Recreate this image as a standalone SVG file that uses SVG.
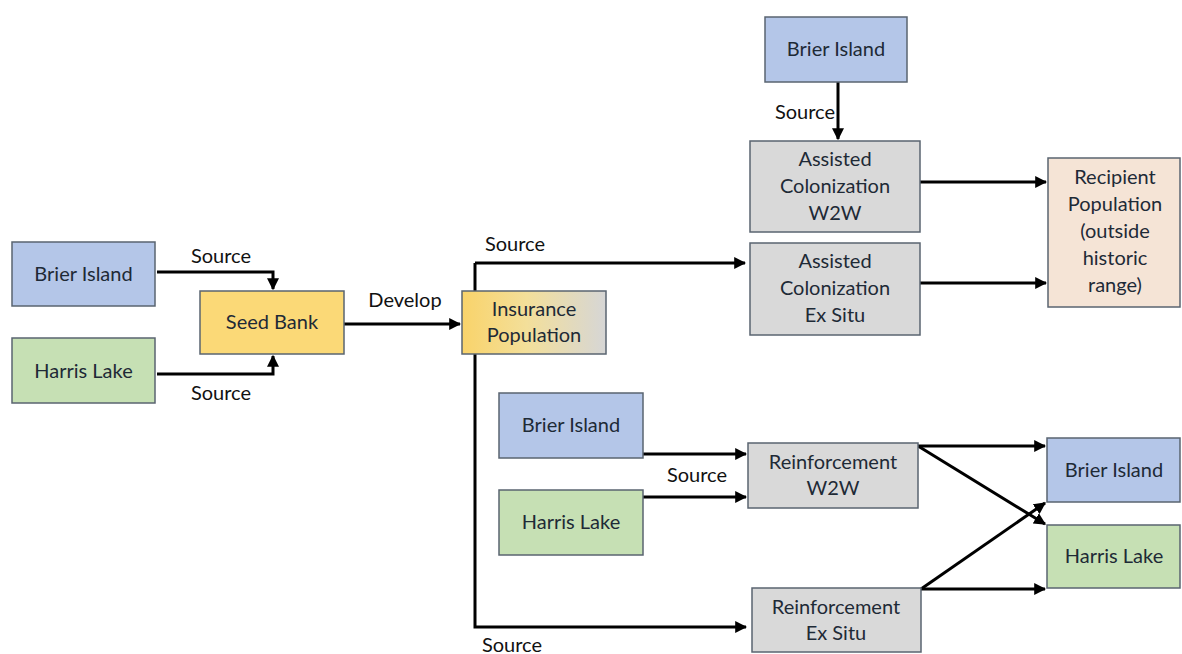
<svg xmlns="http://www.w3.org/2000/svg" width="1182" height="654" viewBox="0 0 1182 654">
<defs>
<marker id="ah" viewBox="0 0 10 10" refX="9" refY="5" markerWidth="4" markerHeight="4" orient="auto" markerUnits="strokeWidth"><path d="M0,0 L10,5 L0,10 z" fill="#000"/></marker>
<linearGradient id="ins" x1="0" y1="0" x2="1" y2="0"><stop offset="0" stop-color="#f9d36a"/><stop offset="0.45" stop-color="#f3df9a"/><stop offset="1" stop-color="#d6d6d6"/></linearGradient>
<style>
.box{stroke:#5a6470;stroke-width:1.5}
.blue{fill:#b4c6e8}
.green{fill:#c6e0b4}
.yellow{fill:#fbd977}
.gray{fill:#d9d9d9}
.peach{fill:#f5e4d6}
text{font-family:Lato,"Open Sans","Liberation Sans",sans-serif;font-size:20px;fill:#1e2a36;text-anchor:middle}
.lbl{fill:#111}
.c{fill:none;stroke:#000;stroke-width:3;marker-end:url(#ah)}
.n{fill:none;stroke:#000;stroke-width:3}
</style>
</defs>
<rect width="1182" height="654" fill="#fff"/>
<g id="connectors">
<path class="c" d="M157,272 H273 V289"/>
<path class="c" d="M157,374 H273 V356"/>
<path class="c" d="M344,324 H460"/>
<path class="n" d="M475,291 V263"/>
<path class="c" d="M475,263 H745"/>
<path class="c" d="M475,354 V627 H746"/>
<path class="c" d="M838,82 V139"/>
<path class="c" d="M920,182 H1046"/>
<path class="c" d="M920,283 H1046"/>
<path class="c" d="M643,454 H746"/>
<path class="c" d="M643,497 H746"/>
<path class="c" d="M918,446 H1045"/>
<path class="c" d="M918,446 L1045,524"/>
<path class="c" d="M921,589 H1045"/>
<path class="c" d="M921,589 L1045,503"/>
<text class="lbl" x="221" y="263">Source</text>
<text class="lbl" x="221" y="400">Source</text>
<text class="lbl" x="405" y="307">Develop</text>
<text class="lbl" x="515" y="251">Source</text>
<text class="lbl" x="805" y="119">Source</text>
<text class="lbl" x="697" y="482">Source</text>
<text class="lbl" x="512" y="652">Source</text>
</g>
<g id="brier-left"><rect class="box blue" x="12" y="242" width="143" height="64"/><text x="83.5" y="281">Brier Island</text></g>
<g id="harris-left"><rect class="box green" x="12" y="338" width="143" height="65"/><text x="83.5" y="378">Harris Lake</text></g>
<g id="seed-bank"><rect class="box yellow" x="200" y="291" width="144" height="63"/><text x="272" y="329">Seed Bank</text></g>
<g id="insurance"><rect class="box" fill="url(#ins)" x="462" y="291" width="144" height="63"/><text x="534" y="316">Insurance</text><text x="534" y="342">Population</text></g>
<g id="brier-top"><rect class="box blue" x="765" y="17" width="142" height="65"/><text x="836" y="56">Brier Island</text></g>
<g id="ac-w2w"><rect class="box gray" x="750" y="141" width="170" height="91"/><text x="835" y="166">Assisted</text><text x="835" y="193">Colonization</text><text x="835" y="220">W2W</text></g>
<g id="ac-exsitu"><rect class="box gray" x="750" y="243" width="170" height="92"/><text x="835" y="268">Assisted</text><text x="835" y="295">Colonization</text><text x="835" y="322">Ex Situ</text></g>
<g id="recipient"><rect class="box peach" x="1048" y="158" width="132" height="149"/><text x="1115" y="184">Recipient</text><text x="1115" y="211">Population</text><text x="1115" y="238">(outside</text><text x="1115" y="265">historic</text><text x="1115" y="292">range)</text></g>
<g id="brier-mid"><rect class="box blue" x="499" y="393" width="144" height="65"/><text x="571" y="432">Brier Island</text></g>
<g id="harris-mid"><rect class="box green" x="499" y="490" width="144" height="65"/><text x="571" y="529">Harris Lake</text></g>
<g id="re-w2w"><rect class="box gray" x="748" y="443" width="170" height="65"/><text x="833" y="469">Reinforcement</text><text x="833" y="495">W2W</text></g>
<g id="re-exsitu"><rect class="box gray" x="752" y="588" width="169" height="64"/><text x="836" y="614">Reinforcement</text><text x="836" y="640">Ex Situ</text></g>
<g id="brier-right"><rect class="box blue" x="1047" y="438" width="133" height="64"/><text x="1114" y="477">Brier Island</text></g>
<g id="harris-right"><rect class="box green" x="1047" y="525" width="133" height="63"/><text x="1114" y="563">Harris Lake</text></g>
</svg>
